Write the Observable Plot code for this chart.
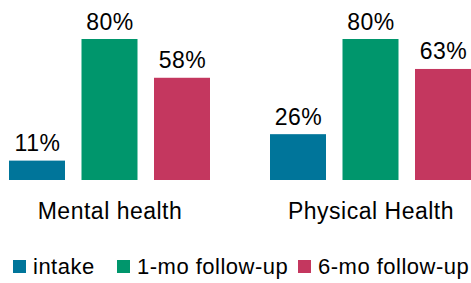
<!DOCTYPE html>
<html><head><meta charset="utf-8">
<script src="https://cdn.jsdelivr.net/npm/d3@7"></script>
<script src="https://cdn.jsdelivr.net/npm/@observablehq/plot@0.6"></script>
<style>
html,body{margin:0;padding:0;background:#fff;}
#chart svg text{letter-spacing:0.5px;}
#legend{margin-left:13px;margin-top:20px;}
#legend > div{font-family:"Liberation Sans",Arial,sans-serif!important;font-size:22px!important;letter-spacing:0.5px;margin:0!important;min-height:33px;color:#000;flex-wrap:nowrap!important;}
#legend svg{margin-right:7px!important;flex:none;}
#legend > div > span{margin-right:0!important;white-space:nowrap;}
#legend > div > span:nth-of-type(1){width:104px;}
#legend > div > span:nth-of-type(2){width:181px;}
</style></head><body><div id="chart"></div><div id="legend"></div><script>
const groups = ["Mental health", "Physical Health"];
const series = ["intake", "1-mo follow-up", "6-mo follow-up"];
const mentalValues = [11, 80, 58];
const physicalValues = [26, 80, 63];
const colors = ["#00759A", "#00966C", "#C4375F"];

const data = [];
groups.forEach((g, i) => {
  const vals = i === 0 ? mentalValues : physicalValues;
  series.forEach((s, j) => data.push({group: g, series: s, value: vals[j]}));
});
const font = '"Liberation Sans", Arial, sans-serif';

const chart = Plot.plot({
  width: 471, height: 230,
  marginTop: 3.75, marginBottom: 50, marginLeft: 9, marginRight: 0,
  style: {fontFamily: font, fontSize: "23px", background: "white", color: "#000"},
  fx: {domain: groups, paddingInner: 0.2299, paddingOuter: 0, round: false, label: null, axis: "bottom", tickSize: 0, tickPadding: 22},
  x: {domain: series, paddingInner: 0.2276, paddingOuter: 0, round: false, axis: null},
  y: {domain: [0, 100], axis: null},
  color: {domain: series, range: colors},
  marks: [
    Plot.barY(data, {fx: "group", x: "series", y: "value", fill: "series"}),
    Plot.text(data, {fx: "group", x: "series", y: "value", text: d => d.value + "%", dy: -10, lineAnchor: "bottom", fill: "#000"})
  ]
});
document.getElementById("chart").append(chart);

const leg = Plot.legend({color: {domain: series, range: colors}, legend: "swatches", swatchSize: 13, className: "leg"});
document.getElementById("legend").append(leg);
</script></body></html>
